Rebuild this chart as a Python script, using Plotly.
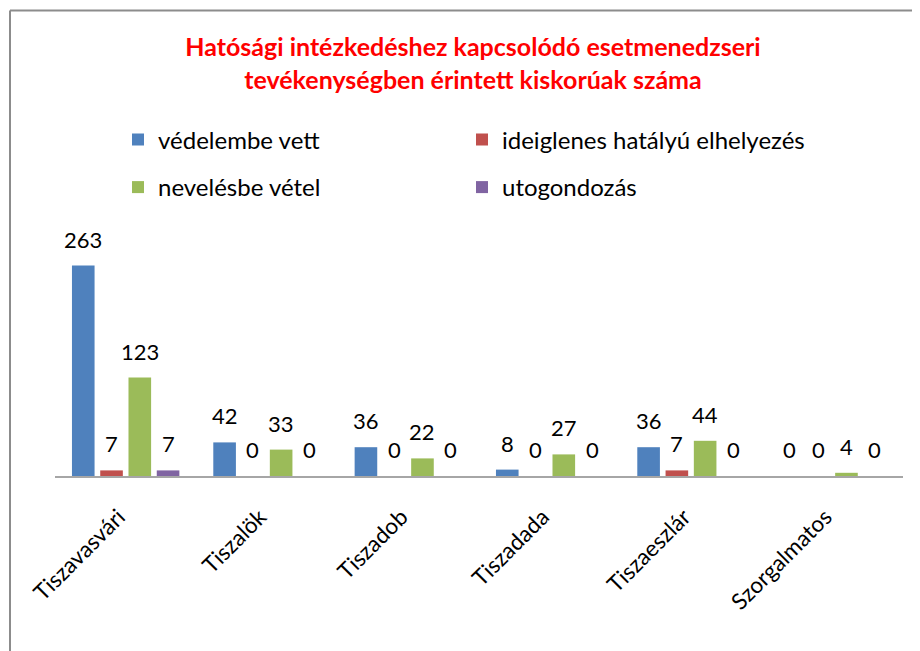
import plotly.graph_objects as go

categories = ["Tiszavasvári", "Tiszalök", "Tiszadob", "Tiszadada", "Tiszaeszlár", "Szorgalmatos"]
series_names = ["védelembe vett", "ideiglenes hatályú elhelyezés", "nevelésbe vétel", "utogondozás"]
vedelembe = [263, 42, 36, 8, 36, 0]
ideiglenes = [7, 0, 0, 0, 7, 0]
neveles = [123, 33, 22, 27, 44, 4]
utogondozas = [7, 0, 0, 0, 0, 0]
colors = ["#4F81BD", "#C0504D", "#9BBB59", "#8064A2"]
title_text = "Hatósági intézkedéshez kapcsolódó esetmenedzseri<br>tevékenységben érintett kiskorúak száma"

series = [vedelembe, ideiglenes, neveles, utogondozas]
FONT = "Lato"

# the page places the figure 8px in from the top-left corner
W, H = 920, 651
ML, MR, MT, MB = 47, 25, 218, 183
PW, PH = W - ML - MR, H - MT - MB
BARGAP, GROUPGAP = 0.2, 0.2
n = len(series)

# legend entries: one legend per entry, laid out in two columns / two rows
legend_ids = ["legend", "legend2", "legend3", "legend4"]
legend_x = [110, 454, 110, 454]
legend_y = [132, 132, 179.5, 179.5]

fig = go.Figure()
for name, vals, col, lg in zip(series_names, series, colors, legend_ids):
    fig.add_trace(go.Bar(
        x=categories, y=vals, name=name, legend=lg,
        marker=dict(color=col, line=dict(width=0)),
        hoverinfo="x+y+name",
    ))

# value labels above bars
slot = (1 - BARGAP) / n
annotations = []
for k, vals in enumerate(series):
    for i, v in enumerate(vals):
        annotations.append(dict(
            x=i + (k - (n - 1) / 2) * slot, y=v, xref="x", yref="y",
            text=str(v), showarrow=False, yanchor="bottom", yshift=11,
            font=dict(family=FONT, size=22, color="black"),
        ))

def px_x(p):
    return (p - ML) / PW

def px_y(p):
    return (H - MB - p) / PH

border = "#8c8c8c"
shapes = [
    dict(type="line", xref="paper", yref="paper", x0=px_x(2), x1=px_x(2), y0=px_y(2.5), y1=px_y(660),
         line=dict(color=border, width=2)),
    dict(type="line", xref="paper", yref="paper", x0=px_x(2), x1=px_x(930), y0=px_y(2.5), y1=px_y(2.5),
         line=dict(color=border, width=2)),
]

legends = {}
for lg, lx, ly in zip(legend_ids, legend_x, legend_y):
    legends[lg] = dict(orientation="h", xref="container", yref="container", x=lx / W, y=1 - ly / H,
                       xanchor="left", yanchor="middle",
                       font=dict(family=FONT, size=24, color="black"), bgcolor="rgba(0,0,0,0)")

fig.update_layout(
    width=W, height=H,
    margin=dict(l=ML, r=MR, t=MT, b=MB, pad=0, autoexpand=False),
    paper_bgcolor="white", plot_bgcolor="white",
    barmode="group", bargap=BARGAP, bargroupgap=GROUPGAP,
    font=dict(family=FONT, size=22, color="black"),
    title=dict(text="<b>" + title_text + "</b>", x=465 / W, xref="container", xanchor="center",
               y=1 - 48 / H, yref="container", yanchor="top",
               font=dict(family=FONT, size=25, color="#FF0000")),
    xaxis=dict(showline=True, linecolor="#a6a6a6", linewidth=2, ticks="", tickangle=-45,
               tickfont=dict(family=FONT, size=22.5, color="black"), ticklabelstandoff=17,
               ticklabelshift=-7, automargin=False,
               showgrid=False, zeroline=False, fixedrange=True),
    yaxis=dict(range=[0, PH / 0.8], visible=False, showgrid=False, zeroline=False, fixedrange=True,
               automargin=False),
    annotations=annotations,
    shapes=shapes,
    showlegend=True,
    **legends,
)

fig.write_html("out.html")
